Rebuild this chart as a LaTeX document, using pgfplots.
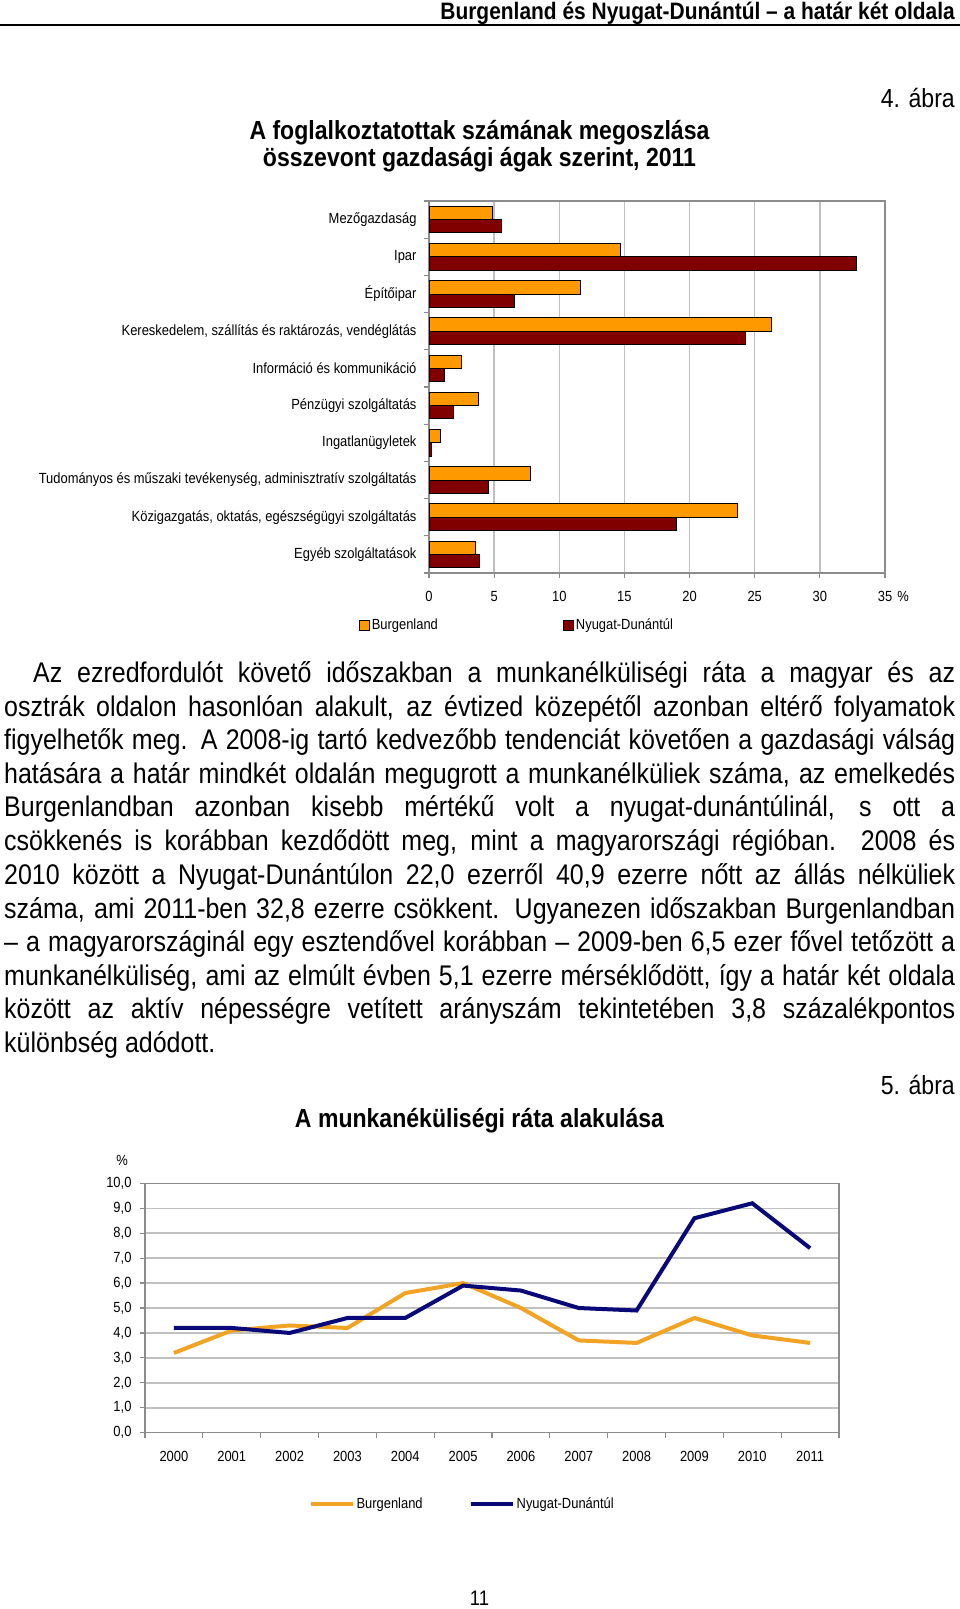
\documentclass[border=0pt]{standalone}
\usepackage{fontspec}
\setmainfont[FakeStretch=0.88]{Liberation Sans}
\usepackage{pgfplots}
\pgfplotsset{compat=1.18}
\definecolor{borange}{HTML}{FF9900}
\definecolor{ndred}{HTML}{800000}
\definecolor{lorange}{RGB}{242,163,36}
\definecolor{lnavy}{RGB}{8,8,120}
\definecolor{gridgray}{RGB}{192,192,192}
\definecolor{axgray}{RGB}{140,140,140}
\newcommand\chartfs{\fontsize{14.7}{16}\selectfont}
\newcommand\parfs{\fontsize{28.4}{33.6}\selectfont}
\newcommand\pline[3]{\node[anchor=base west,inner sep=0pt,font=\parfs] at (#1pt,-#2pt) {\makebox[\dimexpr955pt-#1pt\relax][s]{#3}};}
\pgfplotsset{
  page chart/.style={
    scale only axis,
    tick align=outside,
    tick pos=left,
    major tick length=5pt,
    minor tick length=5pt,
    axis line style={axgray,line width=1.2pt},
    every tick/.style={axgray,line width=1.2pt},
    tick label style={font=\chartfs},
    /pgf/number format/assume math mode=true,
    legend style={draw=none,fill=none,font=\chartfs,legend columns=2},
  }
}
\begin{document}
\begin{tikzpicture}
\useasboundingbox (0pt,0pt) rectangle (960pt,-1609pt);
\fill[white] (0pt,0pt) rectangle (960pt,-1609pt);
% page header
\node[anchor=base east,inner sep=0pt,font=\fontsize{23.8}{26}\bfseries] at (955pt,-19pt) {Burgenland és Nyugat-Dunántúl – a határ két oldala};
\draw[line width=2pt] (0pt,-24.6pt) -- (960pt,-24.6pt);
\node[anchor=base east,inner sep=0pt,font=\fontsize{26.2}{28}\selectfont] at (955pt,-107pt) {4. ábra};
\node[anchor=base,inner sep=0pt,font=\fontsize{26.2}{28}\bfseries] at (479.5pt,-139pt) {A foglalkoztatottak számának megoszlása};
\node[anchor=base,inner sep=0pt,font=\fontsize{26.2}{28}\bfseries] at (479.5pt,-166pt) {összevont gazdasági ágak szerint, 2011};

\begin{axis}[page chart,
  at={(429pt,-201pt)}, anchor=north west,
  width=456pt, height=372pt,
  xbar, bar width=13.3pt,
  xmin=0, xmax=35, ymin=-0.5, ymax=9.5, y dir=reverse,
  xtick={0,5,...,35},
  xmajorgrids, grid style={gridgray,line width=1.3pt},
  ytick={0,...,9},
  yticklabels={Mezőgazdaság,Ipar,Építőipar,{Kereskedelem, szállítás és raktározás, vendéglátás},Információ és kommunikáció,Pénzügyi szolgáltatás,Ingatlanügyletek,{Tudományos és műszaki tevékenység, adminisztratív szolgáltatás},{Közigazgatás, oktatás, egészségügyi szolgáltatás},Egyéb szolgáltatások},
  minor ytick={-0.5,0.5,...,9.5},
  major y tick style={draw=none},
  yticklabel style={xshift=-4pt},
  xticklabel style={yshift=-10pt},
  legend style={at={(-0.161,-0.14)},anchor=west,
    /tikz/every even column/.append style={column sep=123pt}},
  legend image code/.code={\draw[#1] (0pt,-5pt) rectangle (10pt,5pt);},
]
\addplot[fill=borange,draw=black,line width=1pt,bar shift=6.65pt] coordinates {
 (4.9,0) (14.7,1) (11.6,2) (26.3,3) (2.5,4) (3.8,5) (0.9,6) (7.8,7) (23.7,8) (3.55,9)};
\addlegendentry{Burgenland}
\addplot[fill=ndred,draw=black,line width=1pt,bar shift=-6.65pt] coordinates {
 (5.6,0) (32.8,1) (6.6,2) (24.3,3) (1.2,4) (1.9,5) (0.2,6) (4.6,7) (19.0,8) (3.85,9)};
\addlegendentry{Nyugat-Dunántúl}
\end{axis}
\node[anchor=center,inner sep=0pt,font=\chartfs] at (903pt,-596pt) {\%};

% paragraph
\pline{33}{682}{Az ezredfordulót követő időszakban a munkanélküliségi ráta a magyar és az}
\pline{4}{716}{osztrák oldalon hasonlóan alakult, az évtized közepétől azonban eltérő folyamatok}
\pline{4}{749}{figyelhetők meg. A 2008-ig tartó kedvezőbb tendenciát követően a gazdasági válság}
\pline{4}{783}{hatására a határ mindkét oldalán megugrott a munkanélküliek száma, az emelkedés}
\pline{4}{816}{Burgenlandban azonban kisebb mértékű volt a nyugat-dunántúlinál, s ott a}
\pline{4}{850}{csökkenés is korábban kezdődött meg, mint a magyarországi régióban. 2008 és}
\pline{4}{884}{2010 között a Nyugat-Dunántúlon 22,0 ezerről 40,9 ezerre nőtt az állás nélküliek}
\pline{4}{918}{száma, ami 2011-ben 32,8 ezerre csökkent. Ugyanezen időszakban Burgenlandban}
\pline{4}{951}{– a magyarországinál egy esztendővel korábban – 2009-ben 6,5 ezer fővel tetőzött a}
\pline{4}{985}{munkanélküliség, ami az elmúlt évben 5,1 ezerre mérséklődött, így a határ két oldala}
\pline{4}{1018}{között az aktív népességre vetített arányszám tekintetében 3,8 százalékpontos}
\node[anchor=base west,inner sep=0pt,font=\parfs] at (4pt,-1052pt) {különbség adódott.};

\node[anchor=base east,inner sep=0pt,font=\fontsize{26.2}{28}\selectfont] at (955pt,-1094pt) {5. ábra};
\node[anchor=base,inner sep=0pt,font=\fontsize{26.2}{28}\bfseries] at (479.5pt,-1127pt) {A munkanéküliségi ráta alakulása};
\node[anchor=center,inner sep=0pt,font=\chartfs] at (122pt,-1160pt) {\%};

\begin{axis}[page chart,
  at={(145pt,-1183.3pt)}, anchor=north west,
  width=694pt, height=249.4pt,
  xmin=-0.5, xmax=11.5, ymin=0, ymax=10,
  xtick={0,...,11},
  xticklabels={2000,2001,2002,2003,2004,2005,2006,2007,2008,2009,2010,2011},
  minor xtick={-0.5,0.5,...,11.5},
  major x tick style={draw=none},
  ytick={0,...,10},
  ymajorgrids, grid style={gridgray,line width=1.5pt},
  yticklabel style={xshift=-5pt,/pgf/number format/.cd,fixed,fixed zerofill,precision=1,use comma},
  xticklabel style={yshift=-10pt},
  legend style={at={(0.231,-0.284)},anchor=west,
    /tikz/every even column/.append style={column sep=44pt}},
  legend image code/.code={\path (0pt,0pt) -- (42pt,0pt);\draw[#1,line cap=round] (2pt,0pt) -- (40pt,0pt);},
]
\addplot[lorange,line width=4pt] coordinates {
 (0,3.2) (1,4.1) (2,4.3) (3,4.2) (4,5.6) (5,6.0) (6,5.0) (7,3.7) (8,3.6) (9,4.6) (10,3.9) (11,3.6)};
\addlegendentry{Burgenland}
\addplot[lnavy,line width=4pt] coordinates {
 (0,4.2) (1,4.2) (2,4.0) (3,4.6) (4,4.6) (5,5.9) (6,5.7) (7,5.0) (8,4.9) (9,8.6) (10,9.2) (11,7.4)};
\addlegendentry{Nyugat-Dunántúl}
\end{axis}

\node[anchor=base,inner sep=0pt,font=\fontsize{21}{24}\selectfont] at (479.5pt,-1605pt) {11};
\end{tikzpicture}
\end{document}
